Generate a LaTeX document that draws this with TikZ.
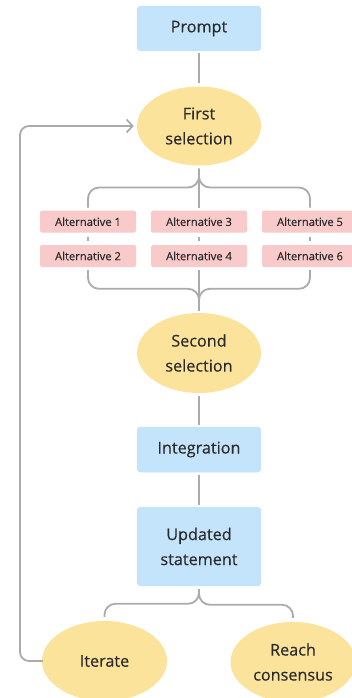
\documentclass[tikz,border=0pt]{standalone}
\usepackage{fontspec}
\setmainfont{Open Sans}
\newfontfamily\medfont{Open Sans}[FakeBold=0.35]
\usetikzlibrary{shapes.geometric,arrows.meta,calc}
\definecolor{boxblue}{HTML}{C3E4FB}
\definecolor{ellyellow}{HTML}{FCE39C}
\definecolor{altpink}{HTML}{F9CACA}
\definecolor{linegrey}{HTML}{ABABAB}
\definecolor{txt}{HTML}{2A2A2A}
\tikzset{
  bluebox/.style={draw=none, fill=boxblue, rounded corners=3pt, minimum width=124pt, text=txt, align=center, font=\medfont\fontsize{16.2}{25}\selectfont, inner sep=0pt},
  ellnode/.style={ellipse, draw=none, fill=ellyellow, minimum width=124pt, minimum height=79pt, text=txt, align=center, font=\medfont\fontsize{16.2}{25}\selectfont, inner sep=0pt},
  altbox/.style={draw=none, fill=altpink, rounded corners=1.5pt, minimum width=96pt, minimum height=22pt, text=txt, font=\medfont\fontsize{11.2}{12}\selectfont, inner sep=0pt},
  conn/.style={draw=linegrey, line width=1.8pt},
}
\begin{document}
\begin{tikzpicture}[x=1pt,y=-1pt]
\clip (0,0) rectangle (352,698);
\fill[white] (0,0) rectangle (352,698);
\node[bluebox, minimum height=45pt] (prompt) at (199,28.5) {Prompt};
\node[ellnode] (first) at (199,126) {First\\selection};
\node[altbox] (alt1) at (88,221.7) {Alternative 1};
\node[altbox] (alt3) at (199,221.7) {Alternative 3};
\node[altbox] (alt5) at (310,221.7) {Alternative 5};
\node[altbox] (alt2) at (88,256) {Alternative 2};
\node[altbox] (alt4) at (199,256) {Alternative 4};
\node[altbox] (alt6) at (310,256) {Alternative 6};
\node[ellnode, minimum height=80pt] (second) at (199,353) {Second\\selection};
\node[bluebox, minimum height=45.5pt] (integ) at (199,449.5) {Integration};
\node[bluebox, minimum height=79pt] (upd) at (199,546.5) {Updated\\statement};
\node[ellnode, minimum width=125pt, minimum height=80pt] (iter) at (104.5,661) {Iterate};
\node[ellnode, minimum width=125pt, minimum height=80pt] (reach) at (293,662) {Reach\\consensus};
\coordinate (loopx) at (20,0);
% prompt -> first
\draw[conn] ([yshift=-2pt]prompt.south) -- ([yshift=3pt]first.north);
% top brace
\draw[conn] ([yshift=-3pt]first.south) -- ([yshift=3pt]alt3.north);
\draw[conn, rounded corners=11pt] ([yshift=-3pt]first.south) |- ([yshift=23pt]alt1.north) -- ([yshift=3pt]alt1.north);
\draw[conn, rounded corners=11pt] ([yshift=-3pt]first.south) |- ([yshift=23pt]alt5.north) -- ([yshift=3pt]alt5.north);
% dashes between rows
\draw[conn] ([yshift=-4.5pt]alt1.south) -- ([yshift=4pt]alt2.north);
\draw[conn] ([yshift=-4.5pt]alt3.south) -- ([yshift=4pt]alt4.north);
\draw[conn] ([yshift=-4.5pt]alt5.south) -- ([yshift=4pt]alt6.north);
% bottom brace
\draw[conn] ([yshift=-3pt]alt4.south) -- ([yshift=2pt]second.north);
\draw[conn, rounded corners=11pt] ([yshift=-3pt]alt2.south) |- ([yshift=24pt]second.north) -- ([yshift=12pt]second.north);
\draw[conn, rounded corners=11pt] ([yshift=-3pt]alt6.south) |- ([yshift=24pt]second.north) -- ([yshift=12pt]second.north);
% chain
\draw[conn] ([yshift=-3pt]second.south) -- ([yshift=2pt]integ.north);
\draw[conn] ([yshift=-3pt]integ.south) -- ([yshift=2pt]upd.north);
% updated brace
\draw[conn, rounded corners=11pt] ([yshift=-3pt]upd.south) |- ([yshift=17pt]iter.north) -- ([yshift=4pt]iter.north);
\draw[conn, rounded corners=11pt] ([yshift=-3pt]upd.south) |- ([yshift=17pt]reach.north) -- ([yshift=4pt]reach.north);
% loop back
\draw[conn, rounded corners=9pt, -{Straight Barb[length=6pt,width=13pt,line width=1.8pt]}] ([xshift=1pt]iter.west) -| (loopx |- first.west) -- ([xshift=-3pt]first.west);
\end{tikzpicture}
\end{document}
